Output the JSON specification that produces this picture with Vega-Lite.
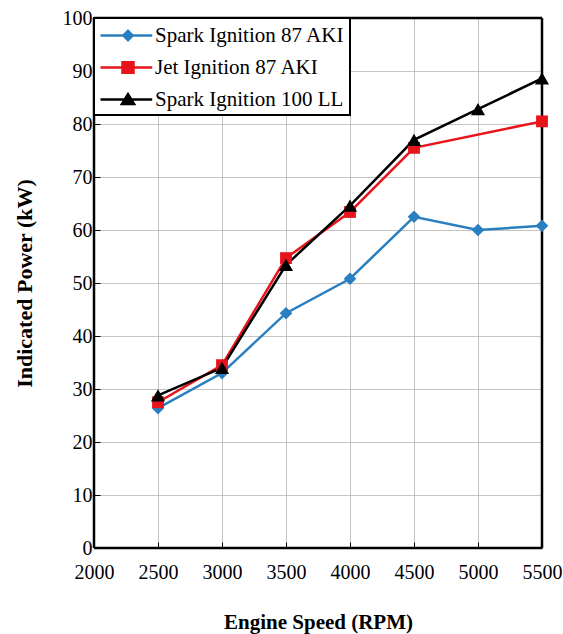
{
  "$schema": "https://vega.github.io/schema/vega-lite/v6.json",
  "width": 448,
  "height": 530,
  "autosize": {"type": "none"},
  "padding": {"left": 94, "top": 18, "right": 21, "bottom": 86},
  "background": "white",
  "config": {
    "view": {"stroke": null},
    "font": "Liberation Serif",
    "axis": {
      "labelFont": "Liberation Serif",
      "titleFont": "Liberation Serif",
      "labelColor": "black",
      "titleColor": "black",
      "gridColor": "#c4c4c4",
      "gridWidth": 1,
      "domain": false,
      "tickColor": "black",
      "tickSize": -6,
      "tickWidth": 1,
      "labelFlush": false,
      "labelOverlap": false
    }
  },
  "data": {
    "values": [
      {"series": "Spark Ignition 87 AKI", "rpm": 2500, "power": 26.4},
      {"series": "Spark Ignition 87 AKI", "rpm": 3000, "power": 33.0},
      {"series": "Spark Ignition 87 AKI", "rpm": 3500, "power": 44.3},
      {"series": "Spark Ignition 87 AKI", "rpm": 4000, "power": 50.8},
      {"series": "Spark Ignition 87 AKI", "rpm": 4500, "power": 62.5},
      {"series": "Spark Ignition 87 AKI", "rpm": 5000, "power": 60.0},
      {"series": "Spark Ignition 87 AKI", "rpm": 5500, "power": 60.8},
      {"series": "Jet Ignition 87 AKI", "rpm": 2500, "power": 27.5},
      {"series": "Jet Ignition 87 AKI", "rpm": 3000, "power": 34.5},
      {"series": "Jet Ignition 87 AKI", "rpm": 3500, "power": 54.7},
      {"series": "Jet Ignition 87 AKI", "rpm": 4000, "power": 63.4},
      {"series": "Jet Ignition 87 AKI", "rpm": 4500, "power": 75.5},
      {"series": "Jet Ignition 87 AKI", "rpm": 5500, "power": 80.5},
      {"series": "Spark Ignition 100 LL", "rpm": 2500, "power": 28.8},
      {"series": "Spark Ignition 100 LL", "rpm": 3000, "power": 34.0},
      {"series": "Spark Ignition 100 LL", "rpm": 3500, "power": 53.4},
      {"series": "Spark Ignition 100 LL", "rpm": 4000, "power": 64.6},
      {"series": "Spark Ignition 100 LL", "rpm": 4500, "power": 77.0},
      {"series": "Spark Ignition 100 LL", "rpm": 5000, "power": 82.8},
      {"series": "Spark Ignition 100 LL", "rpm": 5500, "power": 88.6}
    ]
  },
  "layer": [
    {
      "data": {"values": [{"edge": 2000}, {"edge": 5500}]},
      "mark": {"type": "rule", "color": "black", "strokeWidth": 2.5},
      "encoding": {
        "x": {
          "field": "edge",
          "type": "quantitative",
          "scale": {"domain": [2000, 5500], "nice": false, "zero": false},
          "axis": {
            "values": [2000, 2500, 3000, 3500, 4000, 4500, 5000, 5500],
            "format": "d",
            "labelFontSize": 20,
            "labelPadding": 20,
            "title": "Engine Speed (RPM)",
            "titleFontSize": 21,
            "titleFontWeight": "bold",
            "titlePadding": 29
          }
        }
      }
    },
    {
      "data": {"values": [{"edge": 0}, {"edge": 100}]},
      "mark": {"type": "rule", "color": "black", "strokeWidth": 2.5},
      "encoding": {
        "y": {
          "field": "edge",
          "type": "quantitative",
          "scale": {"domain": [0, 100], "nice": false},
          "axis": {
            "values": [0, 10, 20, 30, 40, 50, 60, 70, 80, 90, 100],
            "format": "d",
            "labelFontSize": 20,
            "labelPadding": 8,
            "title": "Indicated Power (kW)",
            "titleFontSize": 22,
            "titleFontWeight": "bold",
            "titlePadding": 26
          }
        }
      }
    },
    {
      "mark": {"type": "line", "strokeWidth": 2.5},
      "encoding": {
        "x": {
          "field": "rpm",
          "type": "quantitative",
          "axis": {
            "values": [2000, 2500, 3000, 3500, 4000, 4500, 5000, 5500],
            "format": "d",
            "labelFontSize": 20,
            "labelPadding": 20,
            "title": "Engine Speed (RPM)",
            "titleFontSize": 21,
            "titleFontWeight": "bold",
            "titlePadding": 29
          }
        },
        "y": {
          "field": "power",
          "type": "quantitative",
          "axis": {
            "values": [0, 10, 20, 30, 40, 50, 60, 70, 80, 90, 100],
            "format": "d",
            "labelFontSize": 20,
            "labelPadding": 8,
            "title": "Indicated Power (kW)",
            "titleFontSize": 22,
            "titleFontWeight": "bold",
            "titlePadding": 26
          }
        },
        "color": {
          "field": "series",
          "type": "nominal",
          "scale": {
            "domain": ["Spark Ignition 87 AKI", "Jet Ignition 87 AKI", "Spark Ignition 100 LL"],
            "range": ["#2a7fc1", "#e8141c", "#000000"]
          },
          "legend": {
            "title": null,
            "orient": "top-left",
            "offset": 0,
            "padding": 5,
            "rowPadding": 9,
            "fillColor": "white",
            "strokeColor": "black",
            "labelFont": "Liberation Serif",
            "labelFontSize": 21,
            "labelColor": "black",
            "labelLimit": 400,
            "symbolSize": 484,
            "labelOffset": 31,
            "encode": {
              "symbols": {
                "update": {
                  "shape": {"signal": "datum.value === 'Spark Ignition 87 AKI' ? 'M-1,0H3.7M1.5,-0.42L1.92,0L1.5,0.42L1.08,0Z' : datum.value === 'Jet Ignition 87 AKI' ? 'M-1,0H3.7M1,-0.48H2V0.48H1Z' : 'M-1,0H3.7M1.5,-0.48L2.05,0.4H0.95Z'"},
                  "stroke": {"signal": "scale('color', datum.value)"},
                  "fill": {"signal": "scale('color', datum.value)"},
                  "strokeWidth": {"value": 2.5},
                  "opacity": {"value": 1},
                  "size": {"value": 484}
                }
              },
              "legend": {"update": {"strokeWidth": {"value": 2}}}
            }
          }
        }
      }
    },
    {
      "transform": [{"filter": "datum.series === 'Spark Ignition 87 AKI'"}],
      "mark": {"type": "point", "filled": true, "opacity": 1, "shape": "diamond", "size": 160},
      "encoding": {
        "x": {"field": "rpm", "type": "quantitative"},
        "y": {"field": "power", "type": "quantitative"},
        "color": {"field": "series", "type": "nominal"}
      }
    },
    {
      "transform": [{"filter": "datum.series === 'Jet Ignition 87 AKI'"}],
      "mark": {"type": "point", "filled": true, "opacity": 1, "shape": "square", "size": 140},
      "encoding": {
        "x": {"field": "rpm", "type": "quantitative"},
        "y": {"field": "power", "type": "quantitative"},
        "color": {"field": "series", "type": "nominal"}
      }
    },
    {
      "transform": [{"filter": "datum.series === 'Spark Ignition 100 LL'"}],
      "mark": {"type": "point", "filled": true, "opacity": 1, "shape": "triangle-up", "size": 200},
      "encoding": {
        "x": {"field": "rpm", "type": "quantitative"},
        "y": {"field": "power", "type": "quantitative"},
        "color": {"field": "series", "type": "nominal"}
      }
    }
  ]
}
